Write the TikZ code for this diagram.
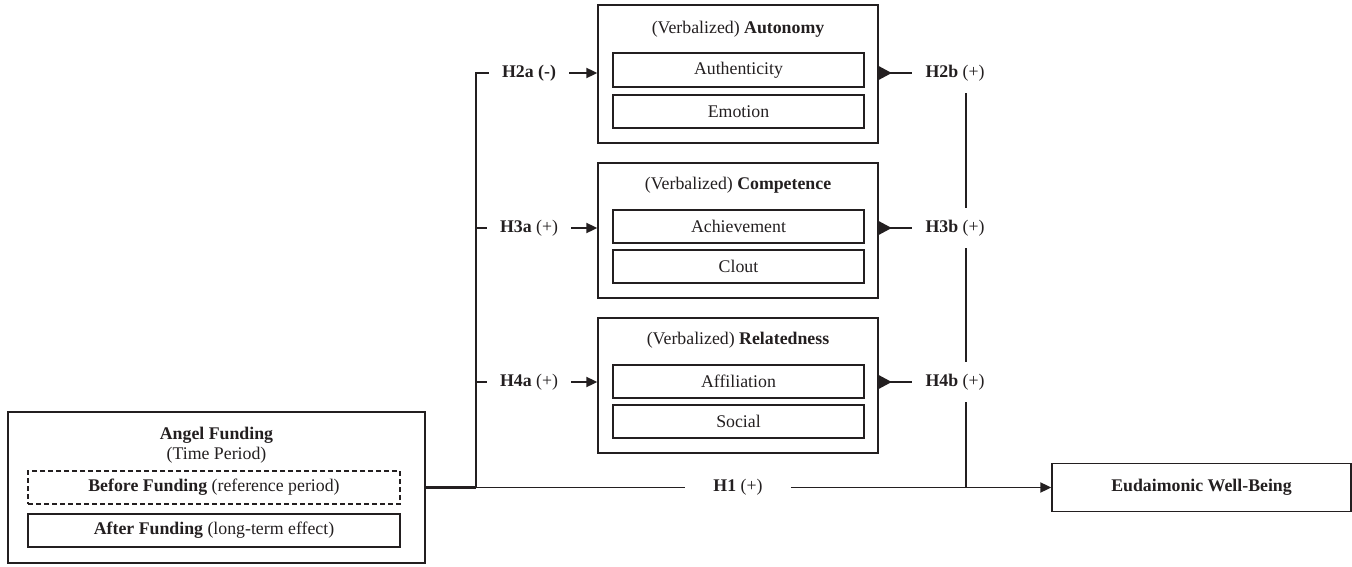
\documentclass[tikz,border=0pt]{standalone}
\usepackage{fontspec}
\setmainfont{Liberation Serif}
\usetikzlibrary{arrows.meta}
\definecolor{ink}{HTML}{231F20}
\begin{document}
\begin{tikzpicture}[x=1pt,y=-1pt,
  font=\fontsize{17.8}{21}\selectfont,
  box/.style={draw=ink, line width=1.3pt, inner sep=0pt, text=ink},
  dbox/.style={box, dash pattern=on 5pt off 3pt},
  ttl/.style={inner sep=0pt, text=ink},
  lbl/.style={inner xsep=13pt, inner ysep=12pt, text=ink},
  conn/.style={draw=ink, line width=1.8pt},
  arr/.style={conn, -{Triangle[length=11pt,width=10pt]}}]
\useasboundingbox (0,0) rectangle (1352,567);

% mediator boxes
\node[box, minimum width=280pt, minimum height=138pt] (aut) at (738,74) {};
\node[ttl] (autT) at (738,29) {(Verbalized) \textbf{Autonomy}};
\node[box, minimum width=251pt, minimum height=34pt] (authn) at (738.5,70) {Authenticity};
\node[box, minimum width=251pt, minimum height=33pt] (emo) at (738.5,111.5) {Emotion};

\node[box, minimum width=280pt, minimum height=135pt] (com) at (738,230.5) {};
\node[ttl] (comT) at (738,185) {(Verbalized) \textbf{Competence}};
\node[box, minimum width=251pt, minimum height=33pt] (ach) at (738.5,226.5) {Achievement};
\node[box, minimum width=251pt, minimum height=33pt] (clo) at (738.5,266.5) {Clout};

\node[box, minimum width=280pt, minimum height=135pt] (rel) at (738,385.5) {};
\node[ttl] (relT) at (738,340) {(Verbalized) \textbf{Relatedness}};
\node[box, minimum width=251pt, minimum height=33pt] (aff) at (738.5,381.5) {Affiliation};
\node[box, minimum width=251pt, minimum height=33pt] (soc) at (738.5,421.5) {Social};

% angel funding
\node[box, minimum width=417pt, minimum height=151pt] (ang) at (216.5,487.5) {};
\node[ttl] (angT) at (216.5,435) {\textbf{Angel Funding}};
\node[ttl] (angS) at (216.5,455) {(Time Period)};
\node[dbox, minimum width=372pt, minimum height=33pt] (bef) at (214,487.5) {\textbf{Before Funding} (reference period)};
\node[box, minimum width=372pt, minimum height=33pt] (aft) at (214,530.5) {\textbf{After Funding} (long-term effect)};

% outcome
\node[box, minimum width=299pt, minimum height=48pt] (eud) at (1201.5,487.5) {\textbf{Eudaimonic Well-Being}};

% labels
\node[lbl] (h2a) at (529,73) {\textbf{H2a (-)}};
\node[lbl] (h3a) at (529,228) {\textbf{H3a} (+)};
\node[lbl] (h4a) at (529,382) {\textbf{H4a} (+)};
\node[lbl] (h2b) at (955,73) {\textbf{H2b} (+)};
\node[lbl] (h3b) at (955,228) {\textbf{H3b} (+)};
\node[lbl] (h4b) at (955,382) {\textbf{H4b} (+)};
\node[lbl, inner xsep=28pt] (h1) at (738,487.5) {\textbf{H1} (+)};

\coordinate (jl) at (476,487.5);
\coordinate (jr) at (966,487.5);

% left side
\draw[conn, line width=2.6pt] (ang.east) -- (jl);
\draw[conn] (jl) -- (h1.west);
\draw[conn] (jl) |- (h2a.west);
\draw[conn] (jl) |- (h3a.west);
\draw[conn] (jl) |- (h4a.west);
\draw[arr] (h2a.east) -- (h2a.east -| aut.west);
\draw[arr] (h3a.east) -- (h3a.east -| com.west);
\draw[arr] (h4a.east) -- (h4a.east -| rel.west);

% right side
\fill[ink] (aut.east |- h2b) ++(0,-7) -- ++(13,7) -- ++(-13,7) -- cycle;
\fill[ink] (com.east |- h3b) ++(0,-7) -- ++(13,7) -- ++(-13,7) -- cycle;
\fill[ink] (rel.east |- h4b) ++(0,-7) -- ++(13,7) -- ++(-13,7) -- cycle;
\draw[conn] (aut.east |- h2b) -- (h2b.west);
\draw[conn] (com.east |- h3b) -- (h3b.west);
\draw[conn] (rel.east |- h4b) -- (h4b.west);
\draw[conn] (h2b.south -| jr) -- (h3b.north -| jr);
\draw[conn] (h3b.south -| jr) -- (h4b.north -| jr);
\draw[conn] (h4b.south -| jr) -- (jr);
\draw[arr] (h1.east) -- (eud.west);
\end{tikzpicture}
\end{document}
